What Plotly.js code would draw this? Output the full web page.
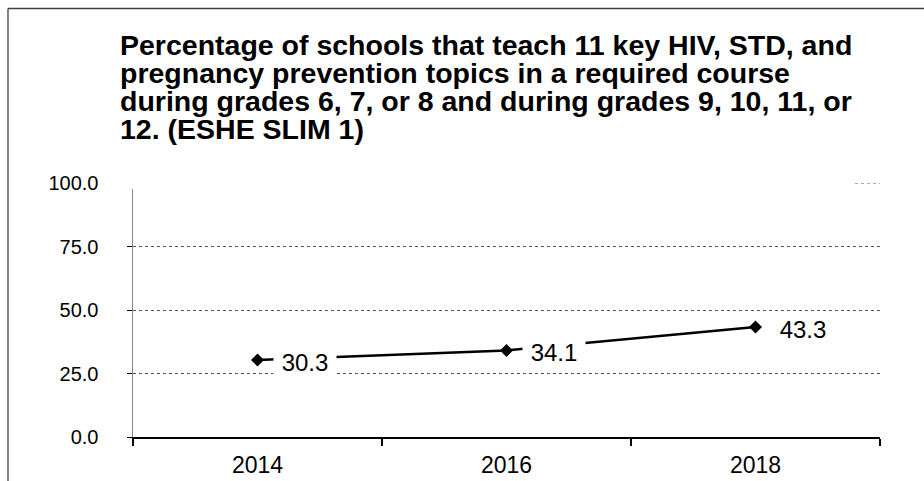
<!DOCTYPE html>
<html>
<head>
<meta charset="utf-8">
<script src="https://cdn.plot.ly/plotly-3.0.1.min.js"></script>
<style>html,body{margin:0;padding:0;background:#fff;}#chart{width:924px;height:481px;}</style>
</head>
<body>
<div id="chart"></div>
<script>
const years = ['2014', '2016', '2018'];
const values = [30.3, 34.1, 43.3];
const yTicks = [0, 25, 50, 75, 100];
const yTickText = ['0.0', '25.0', '50.0', '75.0', '100.0'];
const titleLines = [
  'Percentage of schools that teach 11 key HIV, STD, and',
  'pregnancy prevention topics in a required course',
  'during grades 6, 7, or 8 and during grades 9, 10, 11, or',
  '12. (ESHE SLIM 1)'
];

const FONT = 'Liberation Sans, Arial, sans-serif';
const L = 133, R = 880, T = 183, B = 437, W = 924, H = 481;
const px = x => (x - L) / (R - L);
const py = y => (B - y) / (B - T);

const trace = {
  x: years, y: values, type: 'scatter', mode: 'lines+markers',
  line: {color: '#000', width: 2.5},
  marker: {symbol: 'diamond', size: 10, color: '#000'},
  hoverinfo: 'skip', cliponaxis: false
};

const annotations = years.map((yr, i) => ({
  x: i, y: values[i], xref: 'x', yref: 'y',
  text: ' ' + values[i].toFixed(1) + ' ',
  showarrow: false, xanchor: 'left', yanchor: 'middle',
  xshift: 15, yshift: -2,
  bgcolor: '#fff', borderpad: 1,
  font: {family: FONT, size: 24, color: '#000'}
}));

const titleY = [45, 73, 101, 129];
titleLines.forEach((s, i) => annotations.push({
  xref: 'paper', yref: 'paper', x: px(118), y: py(titleY[i]), xanchor: 'left', yanchor: 'middle',
  align: 'left', showarrow: false,
  text: '<b>' + s + '</b>',
  font: {family: FONT, size: 28.5, color: '#000'}
}));

const shapes = [
  {type: 'rect', xref: 'paper', yref: 'paper', x0: px(110), x1: px(855), y0: py(177), y1: py(189),
   fillcolor: '#fff', line: {width: 0}, layer: 'above'},
  {type: 'line', xref: 'paper', yref: 'y', x0: px(855), x1: 1, y0: 100, y1: 100,
   line: {color: '#555', width: 1, dash: 'dot'}, layer: 'above'},
  {type: 'line', xref: 'paper', yref: 'paper', x0: px(8), x1: px(930), y0: py(8.5), y1: py(8.5),
   line: {color: '#404040', width: 1.3}, layer: 'above'},
  {type: 'line', xref: 'paper', yref: 'paper', x0: px(8), x1: px(8), y0: py(8.5), y1: py(490),
   line: {color: '#404040', width: 1.3}, layer: 'above'}
];

const layout = {
  width: W, height: H,
  margin: {l: L, r: W - R, t: T, b: H - B, pad: 0},
  paper_bgcolor: '#fff', plot_bgcolor: '#fff',
  showlegend: false,
  xaxis: {
    type: 'category', categoryorder: 'array', categoryarray: years,
    range: [-0.5, 2.5], autorange: false,
    showgrid: false, zeroline: false,
    showline: true, linecolor: '#000', linewidth: 1.5,
    ticks: 'outside', tickson: 'boundaries', ticklen: 7, tickcolor: '#000', tickwidth: 1.5,
    tickfont: {family: FONT, size: 23, color: '#000'},
    ticklabelstandoff: 7,
    fixedrange: true
  },
  yaxis: {
    range: [0, 100], autorange: false, tickvals: yTicks, ticktext: yTickText,
    showgrid: true, gridcolor: '#555', griddash: 'dot', gridwidth: 1,
    zeroline: false,
    showline: true, linecolor: '#868686', linewidth: 1.5,
    ticks: 'outside', ticklen: 5, tickcolor: '#000', tickwidth: 1,
    tickfont: {family: FONT, size: 20, color: '#000'},
    ticklabelstandoff: 24,
    fixedrange: true
  },
  annotations: annotations,
  shapes: shapes
};

Plotly.newPlot('chart', [trace], layout, {displayModeBar: false, staticPlot: true});
</script>
</body>
</html>
